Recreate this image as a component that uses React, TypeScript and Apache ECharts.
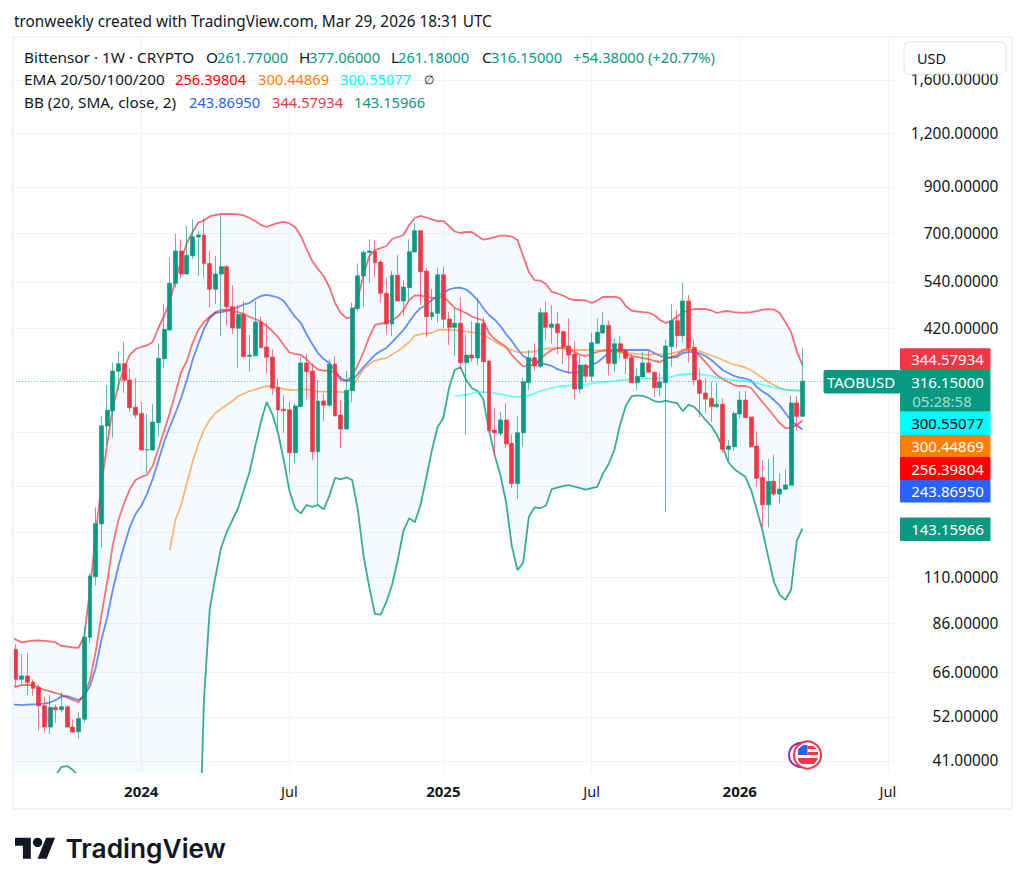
import React, { useEffect, useRef } from "react";
import * as echarts from "echarts";

// [open, close, low, high], weekly candles from 2023-07-31 to 2026-03-23
const candles = [
[74.8,63.6,61.2,76.9],[63.6,64.8,61.8,72.9],[64.8,62.5,58.5,73.2],[62.7,60.6,58.2,63.6],[60.9,55.2,48.3,61.9],
[55.2,49.2,47.7,57.9],[49.2,54.7,47.4,58.5],[54.7,54.0,50.4,55.4],[54.0,54.9,53.2,59.3],[54.9,49.2,49.2,54.9],
[49.2,47.9,47.7,51.3],[48.0,51.5,46.2,53.3],[51.3,79.8,50.4,84.4],[79.8,110.9,77.2,112.5],[110.5,147.2,105.6,160.5],
[146.8,248.9,129.1,262.3],[248.5,270.5,224.4,309.8],[269.4,334.1,233.4,350.2],[333.5,347.5,301.6,371.5],[347.5,317.8,297.3,391],
[318.3,274.3,268.4,337.7],[274.9,263.7,259,321.2],[266,218.4,218.4,283.2],[218.4,219.2,193.3,265.2],[218.4,254,218.4,279.3],
[253,357.8,234.6,387.7],[357,418.2,340.1,479],[416.6,535.4,415,615.9],[535.4,637.2,523,698.4],[637.2,563,549,678.5],
[563,622.6,563,729],[621,688.2,611.2,755.7],[687,694.5,557,710.7],[694.5,595,553,759.7],[596,518.6,469.7,638.2],
[518.6,563,478.3,620],[563,585.7,403.3,777.5],[585.7,472.3,427.3,591],[472.3,421.1,407.7,530.6],[420.4,453.4,340.1,476.5],
[453.4,360.9,360.9,487],[361.5,364,332.9,405.6],[362.6,435,362.6,487],[435,378.8,378.8,447.5],[380.2,359.8,330,433.3],
[360.4,304.4,293.5,375.5],[306,270.9,238.9,320],[272,269.9,239.7,293.5],[271.3,215.3,192.4,283.2],[215.3,276.9,203.9,281],
[275.9,348.9,275.9,359.8],[348.9,332.9,286.9,366.7],[334.1,216.4,207,348.3],[216.4,284.3,162.5,318.3],[284.3,278,255.3,296.3],
[278,346.9,274.9,355.8],[346.9,262.3,262.3,362.2],[263.7,244.5,220.4,285.8],[244.5,301,244.5,334.1],[300.5,469,282.3,482.5],
[467,557.8,461.4,596.2],[557,632.7,470.8,640.6],[632,637,535.4,678.5],[637,598.3,553,673.4],[600.5,507.5,482.5,609.3],
[507.5,430.3,407,553],[430.3,559.2,403.3,573],[559.2,486.9,486.9,623.6],[486.9,525,450,545],[523,634.8,491.3,678.5],
[634,710.7,634,742],[710.7,570,476.5,712],[572,447.5,400.5,582.5],[447.5,457.2,439.6,519.4],[455.7,560.8,433.3,582.5],
[560.8,441.3,420.4,585.7],[442,422.6,384.2,459],[422.6,431.9,362.2,468.2],[431.9,349.5,337.2,496.7],[349.5,364,237.6,407],
[364,358.3,351.3,437],[358.3,431.9,345,494],[431.9,351.3,296.3,446],[352.6,242.3,242.3,353.9],[243.2,239.7,212.6,273.4],
[238.9,256.7,235.5,268],[256.7,225.5,220.4,281],[226.4,182.3,178,237.6],[182.3,239.7,167.8,262.3],[239.7,315.4,222.4,322.2],
[313.8,359,301.6,374.1],[359,343.2,334.1,387.7],[342.7,457.2,339,469.7],[457.2,422.6,394.7,487],[422.6,430.3,387.7,475],
[430.3,410.5,366.2,459.7],[412.8,380.2,346.9,415],[382.2,364,328.8,443.6],[366.2,303.3,287.3,391],[303.3,345,296.3,362.2],
[345,324.8,313.8,348.3],[324.8,389,315.4,410.5],[387.7,411.5,386.2,443.6],[410,427.3,409,459.7],[427.3,348.3,326.2,438],
[347.5,387,332.9,398.3],[387,371.5,357.8,403.3],[374.1,357.8,328.8,376],[359,313.8,313.8,366.2],[313.8,324.8,301.6,339],
[323.6,348.9,323.6,369.5],[348.9,331.7,331.7,372.8],[332,305.4,290.4,332],[305.4,314.9,291.4,330],[313.8,382.2,156.7,396.1],
[381,438,342.2,478.6],[438,404,377.5,463.9],[404,487,390.9,537.3],[487,378.1,349.5,503],[379.6,318.3,309.3,396.1],
[318.3,296.3,260.5,335.9],[296.8,287.3,267,321.2],[288.4,275.9,254.4,315.4],[275.5,279.3,274.9,314.5],[279.3,219.2,215.3,288.4],
[219.2,223.2,206.2,230.5],[222.4,266,217.2,269.4],[265.2,285.8,259.1,300],[285.8,259.9,259.9,300.5],[261,222.4,220.4,261],
[223.2,187.6,179.3,241.9],[188.3,162.7,144.1,207],[162.7,184.6,144.1,208],[184.6,172.3,170.5,212.9],[172.3,177,164,192.6],
[176.8,181,176.1,196.4],[180.6,281.4,180.6,293],[281.4,261.77,242.3,292],[261.77,316.15,261.18,377.06],
];

// Indicator arrays start one week before the first candle, which sits just off the pane's left edge.
const bbUpper = [
79.68,78.8,77.6,78.0,78.3,78.4,78.2,78.0,77.6,76.1,75.9,75.5,75.4,80.3,102.9,138.3,180.9,224.4,273.8,309.8,339.6,
364.3,376.1,380.2,383.3,390.5,421.1,449.2,484.3,545.1,603.8,665.3,705.8,742.8,750.7,767.3,773.4,777.5,777.5,777.5,776,
771.5,761,748.7,733,725,733,741,745,738.8,725,691,644,603.8,578.4,557,525,481.6,456.5,444.3,446.7,
494.8,560.3,620,640.6,647.5,654.6,679.7,687,694.5,733,761,769.4,763,755,748.7,748.7,729,707.7,702,705.8,
705.8,691,677,681.5,687,691.8,691.8,688.8,676,620,569,545,543.6,533.5,511.9,507,501.6,493.5,489.5,489.5,
488.2,481.6,488.2,497.5,497.5,498.8,494.8,474,462.7,460.2,458.9,457.7,451.6,439.6,432.6,437.2,448,457.7,462.7,466.4,
466.4,466.4,462.7,456.5,460.2,461.4,458.9,457.2,457.7,458.9,461.4,464.6,465.9,465.1,456.5,435,412.2,372,344.57934,
];
const bbBasis = [
55.55,55.55,55.4,55.5,55.6,55.7,55.85,56.15,56.92,58,58.13,57.5,56.92,58.13,61.4,67.6,78.6,88.5,102.9,117,130.4,
144.3,154.8,161.7,172.3,186.9,205.9,228,247.2,266.6,288.9,318.3,354.5,386.2,418.9,444.3,456.5,458.9,461.4,466.4,471.5,
477.9,481.6,492.1,500.2,503,500.2,496.2,486.9,466.4,446.8,432.6,407.7,386.2,368.1,356.4,348.9,334.1,321.8,316.6,318.3,
328.8,341.4,352.6,364.2,372,378.2,390.5,403.3,416.6,434.9,454.1,469,476.5,489.5,500.2,508.3,518,522.2,523,518,
505.5,489.5,469,451.6,440.8,425.7,407.7,392.6,376.1,362.2,356.4,351.7,348,346.1,343.3,337.7,334.1,331.8,331,332.3,
338.6,345,349.8,358.3,369.1,374.1,375.5,374.5,374.1,374.1,374.1,374.1,368.1,362.2,358.9,359.3,360.3,368.1,370.1,370.1,
367.2,362.2,354.5,345,335.9,330.5,325.3,322.6,320.9,317.4,306.5,299.2,293.6,285.8,277.7,266.6,256,249.3,243.8695,
];
const bbLower = [
36,36,36,36,36,36,36.5,37,38,39.7,39.9,39.06,37.8,33,25,18,12,9,7,6,5.5,
5.5,6,6.5,7,8,9,10,11,12,13,14,16,20,56.9,92.4,110.2,128.9,140.5,149.9,159.9,
176.1,194,222.9,254,282.7,265.1,239.3,207,175.2,159.5,155.3,162.5,160.8,162.5,158.8,170.6,188,186.6,188.6,185.9,
158.2,123.5,104.6,90.4,90.1,96.4,105.7,120.9,141.3,151.3,148.1,162.5,188,218.4,247.2,259.5,304.9,335.9,341.4,318.3,
304.9,300,287.3,243.2,212.6,191,165.1,130.4,114.5,119,152.4,160.4,159.7,162.1,176.9,178.5,179.9,180.9,179.4,178,
176.6,178,179.2,192.4,202.6,218.4,250,276.9,291.4,293,292.2,289,284.3,282.7,285,282.7,281,269.4,278.4,275.5,
266.6,256.7,248.5,236.8,222,204.8,197.2,193,188.9,176.1,158.2,141.3,122.9,107.4,100.2,97.5,102.9,133.9,143.15966,
];
const ema20 = [
61.05,61.2,61.66,61.7,61.7,60.9,60.07,59.6,59.1,58.5,57.7,56.92,56.3,58.5,63.39,73.7,89.5,106.8,131,149.9,164.2,
177,185.9,188.9,191,200.4,219.6,241.9,266.6,296.8,332.3,352.6,388.4,416.6,434.9,446.8,458.9,463.9,463.9,461.4,458.9,
454.1,446.8,442,435.6,425.7,414.3,401.1,384.2,369.1,366.2,364.2,356.4,345,336.8,334.6,335.4,332.3,318.3,316.6,325.3,
345,370.1,401.1,428,431.4,432.6,439.6,447.5,463.9,489.5,501.6,501.6,497.5,495.6,494.8,498.8,484.3,469,462.7,456.5,
448,443.2,438.4,410,396.8,388.4,380.2,364.2,352.6,342.4,343.3,346.9,356.4,366.2,374.1,378.2,378.2,376.1,370.1,364.2,
362.2,366.2,370.1,373.1,374.1,374.1,372,366.2,362.2,360.3,358.3,356.4,352.6,350.7,356.4,360.3,364.2,374.1,376.1,372,
362.2,350.7,337.7,327,320,314.9,309.8,308.2,308.2,304.9,293.6,282.7,272.4,262.3,252.6,245.8,246.4,249.3,256.39804,
];
const ema50Start = 27; // candle index of the first EMA 50 value
const ema50 = [
127.5,149.9,162.5,182.9,204.8,225.5,243.2,256.7,266.6,272.4,278.4,284.3,292,296,300,302.4,305.7,308.2,307.7,305.7,
303.2,302.1,301.6,302.4,303.2,300.8,299.2,298.9,298.9,298.9,298.4,297.9,305.7,321.8,337.7,346.9,353.5,356.4,358.3,365.2,
372,380.2,390.5,404.4,407.7,408.8,410,416.6,417.3,416.6,416,415,413.2,411.5,410,405.6,399,391.5,384.2,379.1,
374.1,370.1,369.5,370.1,371.1,374.1,377.1,377.5,378.2,377.1,375.1,374.1,374.1,374.1,373.5,373.1,373.1,372,371.1,368.7,
368.1,367.2,366.2,365.2,364.2,366.2,365.2,365.2,367.2,370.1,372,374.1,374.1,372,367.2,363.2,359.4,354.5,349.8,345.6,
343.3,340.1,335,328.8,321.8,314.9,309.8,304.9,302.4,301.1,300.6,300.44869,
];
const ema100Start = 77; // candle index of the first EMA 100 value
const ema100 = [
292,292.8,294.4,296.3,298.8,298.4,297.6,296.8,295.2,293.6,291.5,290.9,292,293.6,296,300,302.4,304.9,307.4,308.2,
309,309.2,309.4,310.7,312.4,314.1,314.9,315.7,316.6,318.3,318.8,319.5,320,320.4,320.7,320.9,321.1,321.2,323.5,327,
327.9,328.8,328.8,327.9,327,325.3,322.6,321.4,320,318.3,317.4,316.6,314.9,313.2,310.7,308.2,305.7,304.1,302.4,301.6,
301,300.55077,
];

const gridValues = [1600, 1200, 900, 700, 540, 420, 240, 180, 140, 110, 86, 66, 52, 41];
const labelValues = [1600, 1200, 900, 700, 540, 420, 110, 86, 66, 52, 41];
const timeTicks: Record<string, string> = {
  "2024-01-01": "2024", "2024-07-01": "Jul", "2025-01-06": "2025",
  "2025-07-07": "Jul", "2026-01-05": "2026", "2026-07-06": "Jul",
};
const lastClose = 316.15;

const priceTags = [
  { text: "344.57934", top: 348.3, bottom: 370, bg: "#F23645", fg: "#ffffff" },
  { text: "316.15000", top: 370, bottom: 411.7, bg: "#089981", fg: "#ffffff" },
  { text: "300.55077", top: 411.7, bottom: 435, bg: "#00FFFF", fg: "#000000" },
  { text: "300.44869", top: 435, bottom: 457, bg: "#FF7F00", fg: "#ffffff" },
  { text: "256.39804", top: 457, bottom: 480, bg: "#FF0000", fg: "#ffffff" },
  { text: "243.86950", top: 480, bottom: 502.5, bg: "#2962FF", fg: "#ffffff" },
  { text: "143.15966", top: 517.5, bottom: 541, bg: "#089981", fg: "#ffffff" },
];

const G = "#089981";
const R = "#F23645";
const INK = "#131722";
const legendLines: [string, string, number, number][] = [
  ["Bittensor · 1W · CRYPTO", INK, 24, 57], ["O", INK, 206, 57], ["261.77000", G, 217, 57],
  ["H", INK, 299, 57], ["377.06000", G, 309, 57], ["L", INK, 391, 57], ["261.18000", G, 398, 57],
  ["C", INK, 482, 57], ["316.15000", G, 491, 57], ["+54.38000 (+20.77%)", G, 573, 57],
  ["EMA 20/50/100/200", INK, 24, 79], ["256.39804", "#FF0000", 175, 79], ["300.44869", "#FF7F00", 258, 79],
  ["300.55077", "#00FFFF", 340, 79], ["∅", INK, 424, 79],
  ["BB (20, SMA, close, 2)", INK, 24, 102], ["243.86950", "#2962FF", 189, 102], ["344.57934", R, 272, 102],
  ["143.15966", G, 354, 102],
];

// Weekly categories, one before the first candle through the Jul 2026 tick and beyond.
const categories: string[] = [];
{
  const first = Date.UTC(2023, 6, 24);
  for (let k = 0; k < 157; k++) categories.push(new Date(first + k * 7 * 86400000).toISOString().slice(0, 10));
}

const FONT = '"Noto Sans", sans-serif';
const font = (size: number, weight = 400) => `${weight} ${size}px ${FONT}`;

function buildOption() {
  const isTick = (_: number, v: string) => v in timeTicks;
  const pad = (arr: number[], start: number) => [...new Array(start + 1).fill(null), ...arr];
  const line = (name: string, data: (number | null)[], color: string, width = 1.8, opacity = 0.72) => ({
    name, type: "line", data, symbol: "none", showSymbol: false, clip: true, z: 3, silent: true,
    lineStyle: { color, width, opacity },
  });
  const tag = (t: (typeof priceTags)[number]) => [
    { type: "rect", z: 100, shape: { x: 900, y: t.top, width: 90.5, height: t.bottom - t.top, r: 1 }, style: { fill: t.bg } },
    { type: "text", z: 101, style: { text: t.text, x: 947.5, y: t.text === "316.15000" ? 382 : (t.top + t.bottom) / 2, fill: t.fg, font: font(15), textAlign: "center", textVerticalAlign: "middle" } },
  ];
  const texts = legendLines.map(([text, fill, x, y]) => ({
    type: "text", z: 101,
    style: {
      text, x, y, fill, textVerticalAlign: "middle",
      font: text === "∅" ? font(12) : /^[+\d]/.test(text) ? font(14.7) : font(15.3),
    },
  }));
  return {
    animation: false,
    backgroundColor: "#ffffff",
    grid: { left: 10.15, width: 889.2, top: 37, bottom: 117, containLabel: false },
    xAxis: {
      type: "category", data: categories, boundaryGap: false,
      axisLine: { show: false }, axisTick: { show: false },
      splitLine: { show: true, interval: isTick, lineStyle: { color: "#f0f3fa", width: 1 } },
      axisLabel: {
        interval: isTick, margin: 11, showMinLabel: true, showMaxLabel: true,
        formatter: (v: string) => { const s = timeTicks[v] ?? ""; return s === "Jul" ? `{m|${s}}` : `{y|${s}}`; },
        rich: {
          m: { fontFamily: FONT, fontSize: 14.5, fontWeight: 400, color: INK },
          y: { fontFamily: FONT, fontSize: 15, fontWeight: 700, color: INK },
        },
      },
    },
    yAxis: {
      type: "log", position: "right", min: 38.64, max: 2015, logBase: 10,
      axisLine: { show: false }, axisTick: { show: false, customValues: gridValues },
      splitLine: { show: true, customValues: gridValues, lineStyle: { color: "#f0f3fa", width: 1 } },
      minorTick: { show: false }, minorSplitLine: { show: false },
      axisLabel: {
        customValues: labelValues, align: "right", margin: 99, color: INK, fontFamily: FONT, fontSize: 15.4,
        formatter: (v: number) => Number(v).toLocaleString("en-US", { minimumFractionDigits: 5, maximumFractionDigits: 5 }),
      },
    },
    series: [
      {
        type: "custom", name: "BB fill", clip: true, silent: true, z: 1,
        data: bbUpper.map((u, k) => [k, u, bbLower[k]]),
        encode: { x: 0, y: [1, 2] },
        renderItem: (params: any, api: any) => {
          if (params.dataIndex !== 0) return null;
          const top = bbUpper.map((u, k) => api.coord([k, u]));
          const bot = bbLower.map((l, k) => api.coord([k, l])).reverse();
          return { type: "polygon", shape: { points: [...top, ...bot] }, style: { fill: "rgba(33,150,243,0.05)" } };
        },
      },
      line("BB upper", bbUpper, R),
      line("BB basis", bbBasis, "#2962FF"),
      line("BB lower", bbLower, G, 1.8, 0.8),
      line("EMA 20", ema20, "#FF0000", 1.8, 0.55),
      line("EMA 50", pad(ema50, ema50Start), "#FF7F00", 1.8, 0.55),
      line("EMA 100", pad(ema100, ema100Start), "#00FFFF", 1.8, 0.55),
      {
        type: "candlestick", name: "TAOBUSD", z: 5, barWidth: 4.4, silent: true, clip: true,
        data: candles.map((c, k) => [k + 1, ...c]),
        encode: { x: 0, y: [1, 2, 3, 4] },
        itemStyle: { color: G, color0: R, borderColor: "rgba(8,153,129,0.65)", borderColor0: "rgba(242,54,69,0.65)", borderWidth: 1 },
        markLine: {
          silent: true, symbol: "none", label: { show: false }, animation: false,
          data: [{ yAxis: lastClose }],
          lineStyle: { color: G, type: [1, 2], width: 1, opacity: 0.7 },
        },
      },
    ],
    graphic: [
      { type: "rect", z: 90, shape: { x: 0, y: 0, width: 13, height: 889 }, style: { fill: "#ffffff" } },
      { type: "rect", z: 91, shape: { x: 13, y: 37, width: 999, height: 772 }, style: { fill: "none", stroke: "#f0f3fa", lineWidth: 2 } },
      { type: "text", z: 101, style: { text: "tronweekly created with TradingView.com, Mar 29, 2026 18:31 UTC", x: 14, y: 20.5, fill: INK, font: font(15.35), textVerticalAlign: "middle" } },
      ...texts,
      { type: "rect", z: 100, shape: { x: 904, y: 42, width: 102, height: 32, r: 5 }, style: { fill: "#ffffff", stroke: "#e0e3eb", lineWidth: 1 } },
      { type: "text", z: 101, style: { text: "USD", x: 917, y: 58, fill: INK, font: font(14.5), textVerticalAlign: "middle" } },
      { type: "rect", z: 100, shape: { x: 823.5, y: 370, width: 77, height: 23.5, r: 2 }, style: { fill: G } },
      { type: "text", z: 101, style: { text: "TAOBUSD", x: 861, y: 382, fill: "#ffffff", font: font(15), textAlign: "center", textVerticalAlign: "middle" } },
      ...priceTags.flatMap(tag),
      { type: "text", z: 101, style: { text: "05:28:58", x: 942, y: 401, fill: "rgba(255,255,255,0.65)", font: font(15), textAlign: "center", textVerticalAlign: "middle" } },
      // event marker
      { type: "circle", z: 95, shape: { cx: 801, cy: 755, r: 12 }, style: { fill: "#ffffff", stroke: "#9C27B0", lineWidth: 2 } },
      { type: "circle", z: 96, shape: { cx: 807.5, cy: 755, r: 13.5 }, style: { fill: "#ffffff" } },
      { type: "rect", z: 96, shape: { x: 798, y: 745, width: 9.5, height: 10 }, style: { fill: "#2962FF" } },
      { type: "rect", z: 96, shape: { x: 807.5, y: 746, width: 11, height: 3 }, style: { fill: R } },
      { type: "rect", z: 96, shape: { x: 807.5, y: 752, width: 11, height: 3 }, style: { fill: R } },
      { type: "rect", z: 96, shape: { x: 798, y: 758, width: 20, height: 6 }, style: { fill: R } },
      { type: "circle", z: 97, shape: { cx: 807.5, cy: 755, r: 11.8 }, style: { fill: "none", stroke: "#ffffff", lineWidth: 2 } },
      { type: "circle", z: 98, shape: { cx: 807.5, cy: 755, r: 13.5 }, style: { fill: "none", stroke: R, lineWidth: 2 } },
      // brand
      { type: "tvlogo", z: 101, x: 15, y: 833, scaleX: 1.13, scaleY: 1.17, style: { fill: INK } },
      { type: "circle", z: 101, shape: { cx: 15 + 20 * 1.13, cy: 833 + 8 * 1.17, r: 4 * 1.17 }, style: { fill: INK } },
      { type: "text", z: 101, style: { text: "TradingView", x: 65.5, y: 848, fill: INK, font: `600 26.3px Inter, ${FONT}`, textVerticalAlign: "middle" } },
    ],
  };
}

export default function App() {
  const ref = useRef<HTMLDivElement>(null);
  useEffect(() => {
    echarts.graphic.registerShape(
      "tvlogo",
      echarts.graphic.extendPath("M14 22H7V11H0V4h14v18zM28 22h-8l7.5-18h8L28 22z", {}) as any
    );
    const chart = echarts.init(ref.current!, undefined, { renderer: "svg" });
    chart.setOption(buildOption() as any);
    return () => chart.dispose();
  }, []);
  return <div ref={ref} style={{ position: "absolute", left: 0, top: 0, width: 1024, height: 889 }} />;
}
